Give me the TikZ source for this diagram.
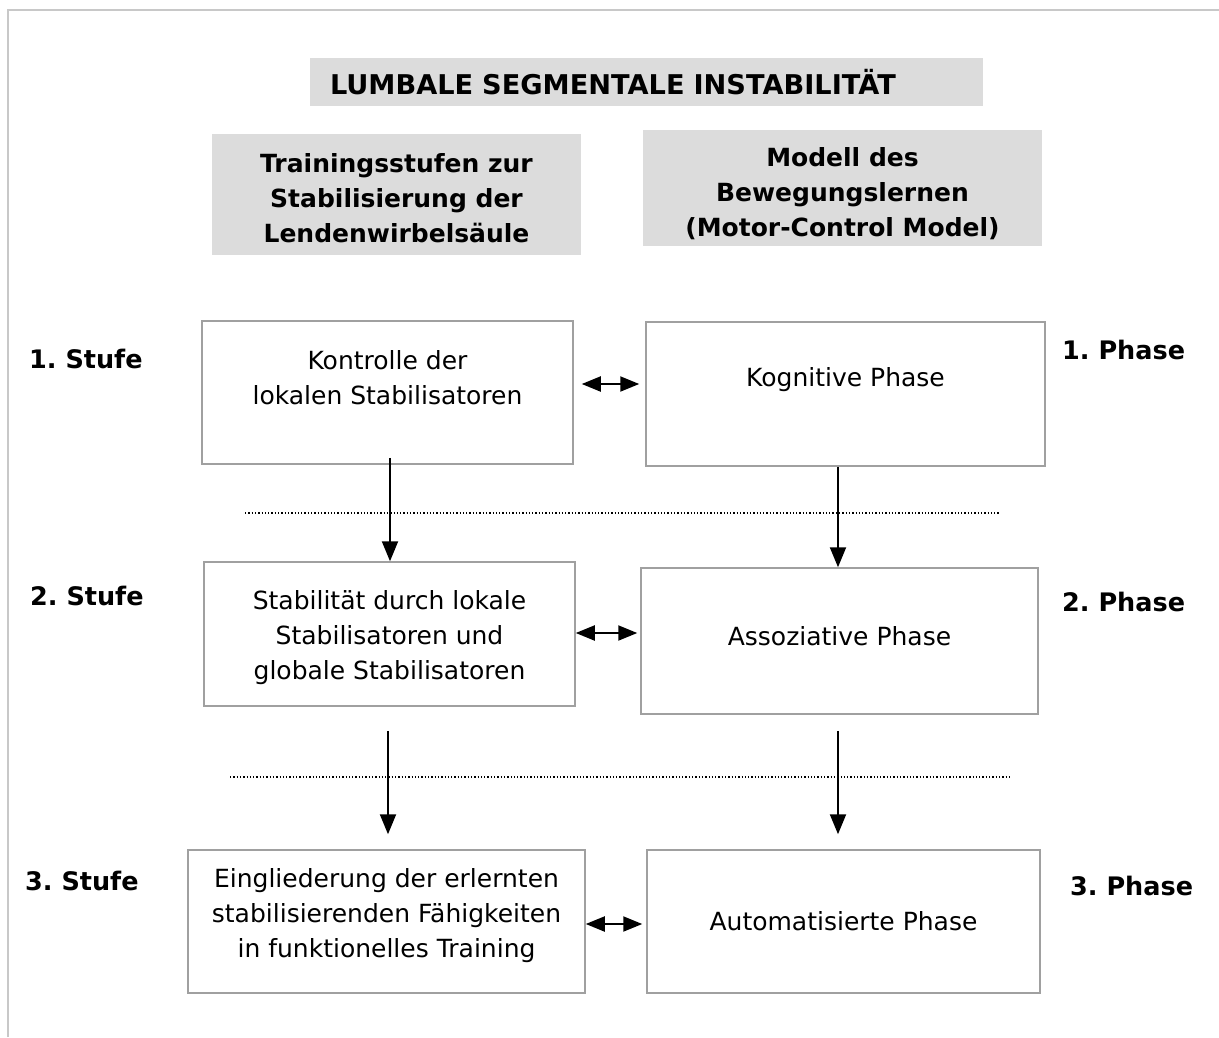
\documentclass[tikz,border=0pt]{standalone}
\usepackage{xcolor}
\usepackage{fontspec}
\setmainfont{DejaVu Sans}
\usepackage{tikz}
\usetikzlibrary{arrows.meta}
\frenchspacing

\definecolor{rimgray}{HTML}{A0A0A0}
\definecolor{headgray}{HTML}{DCDCDC}
\definecolor{framegray}{HTML}{C8C8C8}

\tikzset{
    stage/.style={draw=rimgray, line width=1.5pt, fill=white, inner sep=0pt},
    txt/.style={align=center, font=\fontsize{25}{35}\selectfont},
    head/.style={fill=headgray, inner sep=0pt},
    headtxt/.style={align=center, font=\bfseries\fontsize{25}{35}\selectfont},
    tag/.style={anchor=base west, inner sep=0pt, font=\bfseries\fontsize{25.5}{30}\selectfont},
    flow/.style={-{Triangle[length=20pt, width=16pt]}, line width=2pt},
    pair/.style={{Triangle[length=19pt, width=15pt]}-{Triangle[length=19pt, width=15pt]}, line width=2pt},
    sep/.style={line width=1.3pt, dash pattern=on 1.3pt off 2pt},
}

\begin{document}
\begin{tikzpicture}[x=1pt, y=-1pt]
    \useasboundingbox (0,0) rectangle (1219,1037);
    \draw[framegray, line width=2pt] (8,1037) -- (8,10) -- (1219,10);

    \node[head, minimum width=673, minimum height=48, text width=633, align=left, font=\bfseries\fontsize{27.2}{30}\selectfont] (T) at (646.5,82) {LUMBALE SEGMENTALE INSTABILITÄT};
    \node[head, minimum width=369, minimum height=121, label={[headtxt, yshift=-4pt]center:{Trainingsstufen zur\\Stabilisierung der\\Lendenwirbelsäule}}] (HL) at (396.5,194.5) {};
    \node[head, minimum width=399, minimum height=116, label={[headtxt, yshift=-6pt]center:{Modell des\\Bewegungslernen\\(Motor-Control Model)}}] (HR) at (842.5,188) {};

    \node[stage, minimum width=371, minimum height=143, label={[txt, yshift=15pt]center:{Kontrolle der\\lokalen Stabilisatoren}}] (A1) at (387.5,392.5) {};
    \node[stage, minimum width=399, minimum height=144, label={[txt, yshift=14pt]center:{Kognitive Phase}}] (B1) at (845.5,394) {};
    \node[stage, minimum width=371, minimum height=144, label={[txt, yshift=-4pt]center:{Stabilität durch lokale\\Stabilisatoren und\\globale Stabilisatoren}}] (A2) at (389.5,634) {};
    \node[stage, minimum width=397, minimum height=146, label={[txt, yshift=5pt]center:{Assoziative Phase}}] (B2) at (839.5,641) {};
    \node[stage, minimum width=397, minimum height=143, label={[txt, yshift=6pt]center:{Eingliederung der erlernten\\stabilisierenden Fähigkeiten\\in funktionelles Training}}] (A3) at (386.5,921.5) {};
    \node[stage, minimum width=393, minimum height=143, label={[txt]center:{Automatisierte Phase}}] (B3) at (843.5,921.5) {};

    \node[tag] (S1) at (29,368) {1. Stufe};
    \node[tag] (S2) at (30,605) {2. Stufe};
    \node[tag] (S3) at (25,890) {3. Stufe};
    \node[tag] (P1) at (1062,359) {1. Phase};
    \node[tag] (P2) at (1062,611) {2. Phase};
    \node[tag] (P3) at (1070,895) {3. Phase};

    \draw[sep] (245,513) -- (1000,513);
    \draw[sep] (230,777) -- (1012,777);

    \draw[flow] ([xshift=2.5pt, yshift=7pt]A1.south) -- ([xshift=2.5pt]A1.south |- A2.north);
    \draw[flow] ([xshift=-7.5pt]B1.south) -- ([xshift=-7.5pt]B1.south |- B2.north);
    \draw[flow] ([xshift=-1.5pt, yshift=-24pt]A2.south) -- ([xshift=-1.5pt, yshift=15pt]A2.south |- A3.north);
    \draw[flow] ([xshift=-1.5pt, yshift=-16pt]B2.south) -- ([xshift=-1.5pt, yshift=15pt]B2.south |- B3.north);

    \draw[pair, shorten <=8pt, shorten >=6pt] ([yshift=8.5pt]A1.east) -- ([yshift=8.5pt]A1.east -| B1.west);
    \draw[pair, shorten >=3pt] ([yshift=1pt]A2.east) -- ([yshift=1pt]A2.east -| B2.west);
    \draw[pair, shorten >=4pt] ([yshift=-2.5pt]A3.east) -- ([yshift=-2.5pt]A3.east -| B3.west);

\end{tikzpicture}
\end{document}
